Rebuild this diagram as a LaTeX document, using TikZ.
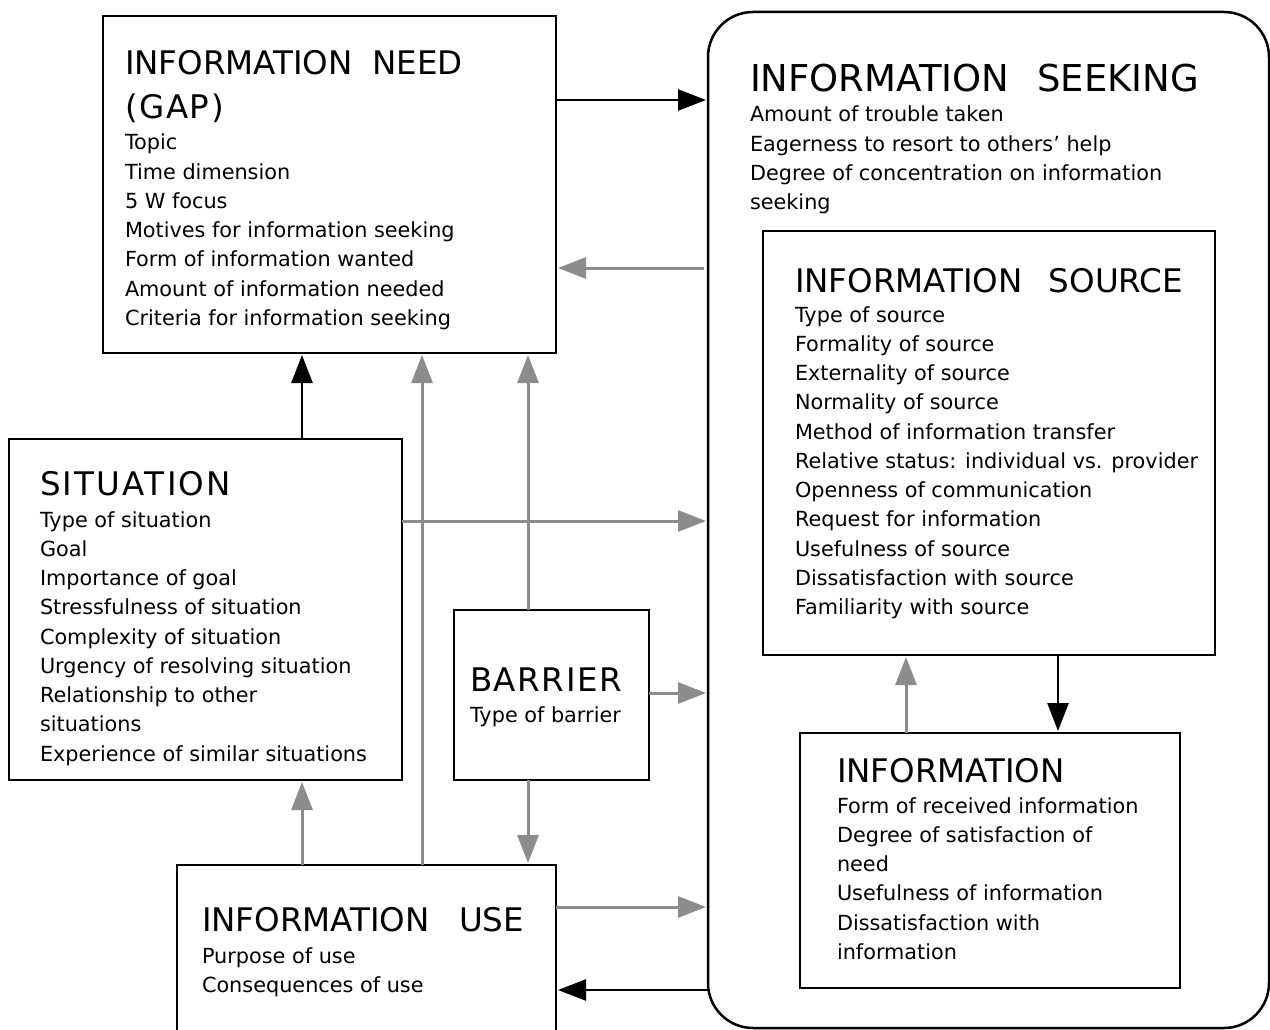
\documentclass[tikz,border=0pt]{standalone}
\usepackage{fontspec}
\setmainfont{DejaVu Sans}
\newfontfamily\trackfont[LetterSpace=5]{DejaVu Sans}
\newfontfamily\widetrackfont[LetterSpace=7]{DejaVu Sans}
\usetikzlibrary{arrows.meta}
\definecolor{arrgray}{RGB}{140,140,140}
\newcommand{\lns}[1]{\begin{tabular}[t]{@{}l@{}}#1\end{tabular}}
\begin{document}
\begin{tikzpicture}[x=1pt,y=-1pt,
  box/.style={draw, line width=2.5pt, rectangle, inner sep=0pt, outer sep=0pt},
  body/.style={anchor=base west, inner sep=0pt, outer sep=0pt, font=\fontsize{20.8}{29.25}\selectfont},
  ttl/.style={anchor=base west, inner sep=0pt, outer sep=0pt, font=\fontsize{32.5}{43}\selectfont},
  bigttl/.style={anchor=base west, inner sep=0pt, outer sep=0pt, font=\fontsize{37}{43}\selectfont},
  barrow/.style={line width=2.5pt, -{Triangle[length=28pt,width=21pt]}, shorten >=2pt},
  garrow/.style={line width=3pt, draw=arrgray, arrgray, -{Triangle[length=28pt,width=21pt]}, shorten >=2pt}]
\clip (0,0) rectangle (1270,1030);
\fill[white] (0,0) rectangle (1270,1030);

% boxes
\node[box, minimum width=453pt, minimum height=337pt] (need) at (329.5,184.5) {};
\node[box, rounded corners=45pt, minimum width=561pt, minimum height=1016pt] (seek) at (988.5,520) {};
\node[box, minimum width=452pt, minimum height=424pt] (source) at (989,443) {};
\node[box, minimum width=380pt, minimum height=255pt] (info) at (990,860.5) {};
\node[box, minimum width=393pt, minimum height=341pt] (sit) at (205.5,609.5) {};
\node[box, minimum width=195pt, minimum height=170pt] (barrier) at (551.5,695) {};
\node[box, minimum width=379pt, minimum height=200pt] (use) at (366.5,965) {};

% texts
\node[ttl] (needT) at (125,75) {\lns{INFORMATION\hspace{0.6em}NEED\\[0.1pt]{\trackfont (GAP)}}};
\node[body] (needB) at (125,150) {\lns{Topic\\Time dimension\\5 W focus\\Motives for information seeking\\Form of information wanted\\Amount of information needed\\Criteria for information seeking}};

\node[bigttl] (seekT) at (750,92) {INFORMATION\hspace{0.75em}SEEKING};
\node[body] (seekB) at (750,122) {\lns{Amount of trouble taken\\Eagerness to resort to others’ help\\Degree of concentration on information\\seeking}};

\node[ttl] (sourceT) at (795,292) {INFORMATION\hspace{0.8em}SOURCE};
\node[body] (sourceB) at (795,322) {\lns{Type of source\\Formality of source\\Externality of source\\Normality of source\\Method of information transfer\\Relative status: individual vs. provider\\Openness of communication\\Request for information\\Usefulness of source\\Dissatisfaction with source\\Familiarity with source}};

\node[ttl] (sitT) at (40,495) {\widetrackfont SITUATION};
\node[body] (sitB) at (40,527) {\lns{Type of situation\\Goal\\Importance of goal\\Stressfulness of situation\\Complexity of situation\\Urgency of resolving situation\\Relationship to other\\situations\\Experience of similar situations}};

\node[ttl] (barrierT) at (470,691) {\trackfont BARRIER};
\node[body] (barrierB) at (470,722) {Type of barrier};

\node[ttl] (infoT) at (837,782) {INFORMATION};
\node[body] (infoB) at (837,813) {\lns{Form of received information\\Degree of satisfaction of\\need\\Usefulness of information\\Dissatisfaction with\\information}};

\node[ttl] (useT) at (202,931) {INFORMATION\hspace{0.9em}USE};
\node[body] (useB) at (202,963) {\lns{Purpose of use\\Consequences of use}};

% connector anchors
\coordinate (p1) at ([yshift=-84pt]need.north east);
\coordinate (p2) at ([yshift=-256pt,xshift=-4pt]seek.north west);
\coordinate (p3) at ([xshift=293pt]sit.north west);
\coordinate (p4) at ([xshift=245pt]use.north west);
\coordinate (p5) at ([xshift=74pt]barrier.north west);
\coordinate (p6) at ([yshift=-82pt]sit.north east);
\coordinate (p7) at ([yshift=-83pt]barrier.north east);
\coordinate (p8) at ([xshift=74pt]barrier.south west);
\coordinate (p9) at ([xshift=125pt]use.north west);
\coordinate (p10) at ([yshift=-42pt]use.north east);
\coordinate (p11) at ([yshift=38pt]seek.south west);
\coordinate (p12) at ([xshift=106pt]info.north west);
\coordinate (p13) at ([xshift=295pt]source.south west);

% connectors
\draw[garrow] (p4) -- (p4 |- need.south);
\draw[garrow] (p5) -- (p5 |- need.south);
\draw[garrow] (p6) -- (p6 -| seek.west);
\draw[garrow] (p2) -- (p2 -| need.east);
\draw[garrow] (p7) -- (p7 -| seek.west);
\draw[garrow] (p8) -- (p8 |- use.north);
\draw[garrow] (p9) -- (p9 |- sit.south);
\draw[garrow] (p10) -- (p10 -| seek.west);
\draw[garrow] (p12) -- (p12 |- source.south);
\draw[barrow] (p1) -- (p1 -| seek.west);
\draw[barrow] (p3) -- (p3 |- need.south);
\draw[barrow] (p11) -- (p11 -| use.east);
\draw[barrow] (p13) -- (p13 |- info.north);
\end{tikzpicture}
\end{document}
